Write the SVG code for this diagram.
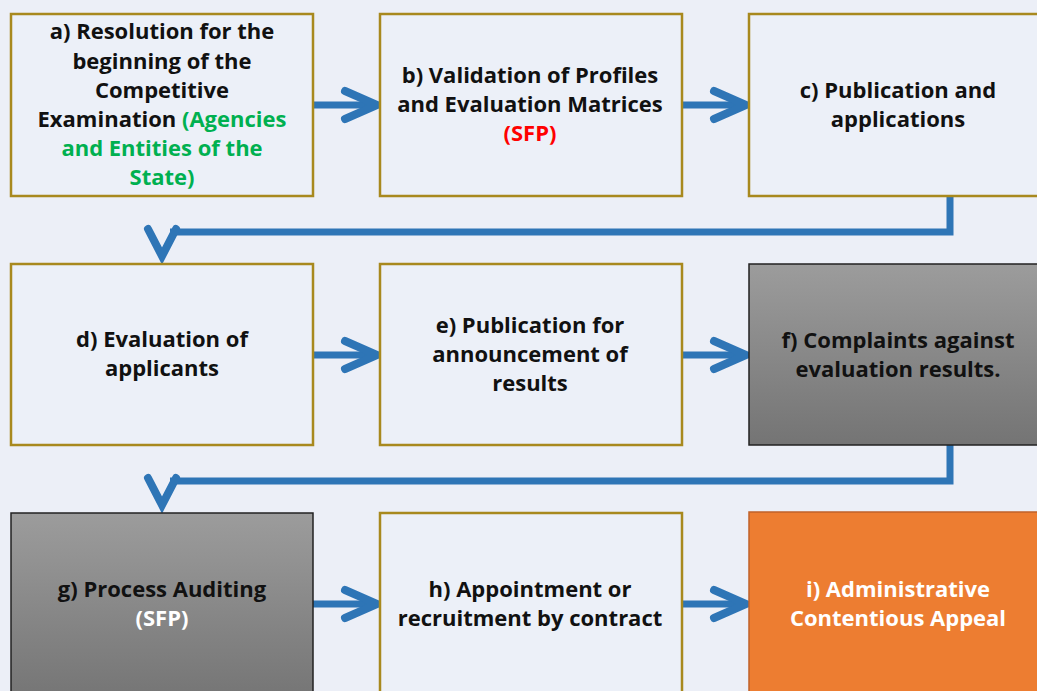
<svg xmlns="http://www.w3.org/2000/svg" width="1037" height="691" viewBox="0 0 1037 691">
<defs>
<linearGradient id="gray" x1="0" y1="0" x2="0" y2="1">
<stop offset="0" stop-color="#9C9C9C"/>
<stop offset="1" stop-color="#747474"/>
</linearGradient>
<style>
.box{fill:#ECF0F8;stroke:#A8891E;stroke-width:2.5}
.gbox{fill:url(#gray);stroke:#222;stroke-width:1.5}
.obox{fill:#ED7D31;stroke:#C0622A;stroke-width:1.5}
text{font-family:"Open Sans","Liberation Sans",Arial,sans-serif;font-weight:bold;font-size:22px;text-anchor:middle;fill:#111}
.grn{fill:#00B050}
.red{fill:#FF0000}
.wht{fill:#FFFFFF}
.con{fill:none;stroke:#2E75B6;stroke-width:7}
.head{fill:none;stroke:#2E75B6;stroke-width:8;stroke-linecap:round;stroke-linejoin:miter}
</style>
</defs>
<rect width="1037" height="691" fill="#ECEFF7"/>
<g id="connectors">
<line class="con" x1="313" y1="105" x2="374" y2="105"/><polyline class="head" points="345,91 377,105 345,119"/>
<line class="con" x1="682" y1="105" x2="743" y2="105"/><polyline class="head" points="714,91 746,105 714,119"/>
<line class="con" x1="313" y1="355" x2="374" y2="355"/><polyline class="head" points="345,341 377,355 345,369"/>
<line class="con" x1="682" y1="355" x2="743" y2="355"/><polyline class="head" points="714,341 746,355 714,369"/>
<line class="con" x1="313" y1="604" x2="374" y2="604"/><polyline class="head" points="345,590 377,604 345,618"/>
<line class="con" x1="682" y1="604" x2="743" y2="604"/><polyline class="head" points="714,590 746,604 714,618"/>
<polyline class="con" points="950,196 950,232 170,232"/>
<polyline class="head" points="148,229 162,256 176,229"/>
<polyline class="con" points="950,445 950,481 170,481"/>
<polyline class="head" points="148,478 162,505 176,478"/>
</g>
<g id="a"><rect class="box" x="11" y="14" width="302" height="182"/>
<text x="162" y="39">a) Resolution for the</text>
<text x="162" y="69">beginning of the</text>
<text x="162" y="98">Competitive</text>
<text x="162" y="127">Examination <tspan class="grn">(Agencies</tspan></text>
<text x="162" y="156" class="grn">and Entities of the</text>
<text x="162" y="185" class="grn">State)</text></g>
<g id="b"><rect class="box" x="380" y="14" width="302" height="182"/>
<text x="530" y="83">b) Validation of Profiles</text>
<text x="530" y="112">and Evaluation Matrices</text>
<text x="530" y="141" class="red">(SFP)</text></g>
<g id="c"><rect class="box" x="749" y="14" width="300" height="182"/>
<text x="898" y="98">c) Publication and</text>
<text x="898" y="127">applications</text></g>
<g id="d"><rect class="box" x="11" y="264" width="302" height="181"/>
<text x="162" y="347">d) Evaluation of</text>
<text x="162" y="376">applicants</text></g>
<g id="e"><rect class="box" x="380" y="264" width="302" height="181"/>
<text x="530" y="333">e) Publication for</text>
<text x="530" y="362">announcement of</text>
<text x="530" y="391">results</text></g>
<g id="f"><rect class="gbox" x="749" y="264" width="300" height="181"/>
<text x="898" y="348">f) Complaints against</text>
<text x="898" y="377">evaluation results.</text></g>
<g id="g"><rect class="gbox" x="11" y="513" width="302" height="190"/>
<text x="162" y="597">g) Process Auditing</text>
<text x="162" y="626" class="wht">(SFP)</text></g>
<g id="h"><rect class="box" x="380" y="513" width="302" height="190"/>
<text x="530" y="597">h) Appointment or</text>
<text x="530" y="626">recruitment by contract</text></g>
<g id="i"><rect class="obox" x="749" y="512" width="300" height="190"/>
<text x="898" y="597" class="wht">i) Administrative</text>
<text x="898" y="626" class="wht">Contentious Appeal</text></g>
</svg>
